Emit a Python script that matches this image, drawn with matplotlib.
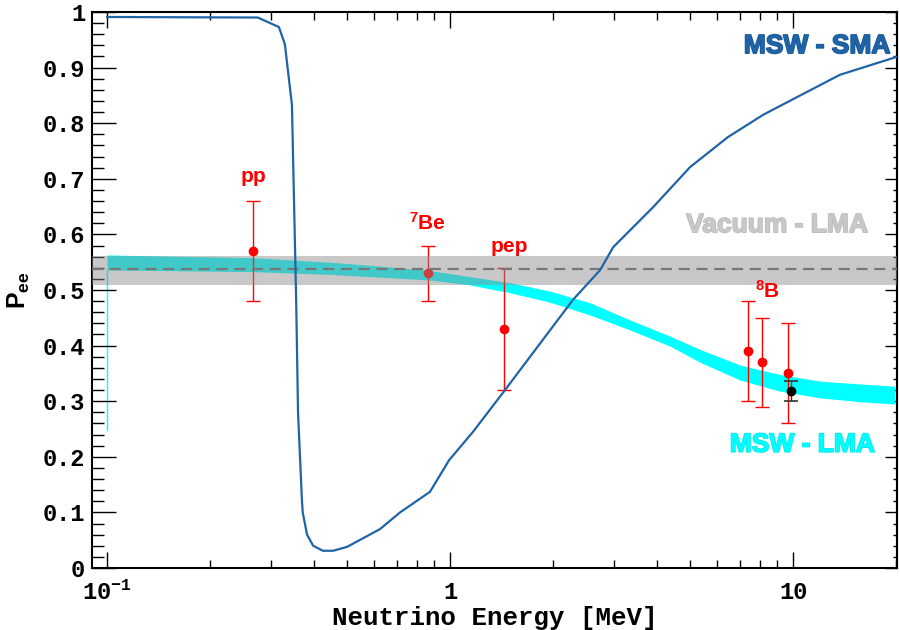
#!/usr/bin/env python3
import matplotlib
matplotlib.use("Agg")
import matplotlib.pyplot as plt
import matplotlib.patheffects as pe
from matplotlib.ticker import FixedLocator, FuncFormatter, LogLocator, MultipleLocator, NullFormatter

# MSW - SMA survival probability
sma_e = [0.100, 0.275, 0.317, 0.330, 0.346, 0.356, 0.3605, 0.370, 0.372, 0.383,
         0.399, 0.426, 0.456, 0.501, 0.625, 0.715, 0.874, 0.994, 1.167, 1.446,
         2.28, 2.74, 2.99, 3.91, 5.01, 6.46, 8.18, 10.28, 13.7, 20.0]
sma_p = [0.991, 0.990, 0.973, 0.942, 0.833, 0.482, 0.279, 0.122, 0.100, 0.060,
         0.040, 0.031, 0.031, 0.038, 0.070, 0.100, 0.137, 0.194, 0.245, 0.320,
         0.482, 0.536, 0.577, 0.649, 0.721, 0.775, 0.815, 0.847, 0.887, 0.919]

# MSW - LMA band
lma_e = [0.100, 0.267, 0.447, 0.626, 0.874, 1.144, 1.496, 1.957, 2.56, 3.35,
         4.38, 5.36, 7.01, 9.16, 11.99, 15.7, 19.8]
lma_hi = [0.563, 0.558, 0.550, 0.543, 0.535, 0.524, 0.513, 0.498, 0.477, 0.446,
          0.417, 0.393, 0.365, 0.348, 0.336, 0.331, 0.327]
lma_lo = [0.536, 0.533, 0.528, 0.523, 0.518, 0.509, 0.495, 0.478, 0.455, 0.428,
          0.399, 0.370, 0.338, 0.318, 0.306, 0.299, 0.295]
lma_tail = 0.248

# Vacuum - LMA
vac_lo, vac_hi, vac_mid = 0.509, 0.561, 0.538

# measurements
meas_e = [0.267, 0.862, 1.44, 7.4, 8.1, 9.7]
meas_p = [0.57, 0.53, 0.43, 0.39, 0.37, 0.35]
meas_err = [0.09, 0.05, 0.11, 0.09, 0.08, 0.09]
bk_e, bk_p, bk_err = [9.86], [0.318], [0.018]

plt.rcParams["mathtext.fontset"] = "custom"
plt.rcParams["mathtext.rm"] = "Liberation Mono:bold"
plt.rcParams["mathtext.sf"] = "Liberation Sans:bold"
plt.rcParams["mathtext.default"] = "rm"

mono = dict(family="Liberation Mono", weight="bold")
sans = dict(family="Liberation Sans", weight="bold")

fig = plt.figure(figsize=(9, 6.3), dpi=100)
ax = fig.add_axes([0.1022, 0.0984, 0.8945, 0.8826])
ax.set_xscale("log")
ax.set_xlim(0.0904, 20.1)
ax.set_ylim(0, 1)

cyan = "#00ffff"
ax.fill_between(lma_e, lma_lo, lma_hi, color=cyan, lw=0, zorder=1)
ax.plot([lma_e[0], lma_e[0]], [lma_tail, lma_lo[0]], color=cyan, lw=1.0, zorder=1)

ax.errorbar(meas_e, meas_p, yerr=meas_err, fmt="o", color="#ff0000", ms=6,
            elinewidth=1.0, capsize=5, capthick=1.0, zorder=2)
ax.errorbar(bk_e, bk_p, yerr=bk_err, fmt="o", color="black", ecolor="#333333",
            ms=6, elinewidth=1.0, capsize=5, capthick=1.2, zorder=2)

ax.axhspan(vac_lo, vac_hi, color="#8b8b8b", alpha=0.475, lw=0, zorder=3)
ax.axhline(vac_mid, color="#777777", lw=1.6, ls=(0, (5, 3)), zorder=4)

ax.plot(sma_e, sma_p, color="#2064a8", lw=1.6, zorder=5)

# labels
lab = dict(color="#ff0000", fontsize=15, zorder=6, **sans)
ax.text(0.267, 0.694, "pp", ha="center", va="baseline", **lab)
ax.text(0.862, 0.608, r"$\mathsf{^{7}}$Be", ha="center", va="baseline", **lab)
ax.text(1.49, 0.568, "pep", ha="center", va="baseline", **lab)
ax.text(8.4, 0.486, r"$\mathsf{^{8}}$B", ha="center", va="baseline", **lab)

ax.text(19.2, 0.926, "MSW - SMA", color="#2064a8", fontsize=19, ha="right",
        va="baseline", zorder=6, **sans,
        path_effects=[pe.withStroke(linewidth=1.2, foreground="#185896")])
ax.text(16.5, 0.604, "Vacuum - LMA", color="#c8c8c8", fontsize=19, ha="right",
        va="baseline", zorder=6, **sans,
        path_effects=[pe.withStroke(linewidth=1.2, foreground="#bdbdbd")])
ax.text(17.3, 0.209, "MSW - LMA", color=cyan, fontsize=19, ha="right",
        va="baseline", zorder=6, **sans,
        path_effects=[pe.withStroke(linewidth=1.2, foreground="#00eaea")])

# axes styling
for s in ax.spines.values():
    s.set_linewidth(1.5)

ax.xaxis.set_major_locator(FixedLocator([0.1, 1, 10]))
ax.xaxis.set_major_formatter(FuncFormatter(
    lambda v, p: {0.1: r"$10^{-1}$", 1: "1", 10: "10"}.get(round(v, 3), "")))
ax.xaxis.set_minor_locator(LogLocator(base=10, subs=range(2, 10)))
ax.xaxis.set_minor_formatter(NullFormatter())

ax.yaxis.set_major_locator(MultipleLocator(0.1))
ax.yaxis.set_minor_locator(MultipleLocator(0.02))
ax.yaxis.set_major_formatter(FuncFormatter(
    lambda v, p: "0" if abs(v) < 1e-9 else ("1" if abs(v - 1) < 1e-9 else f"{v:.1f}")))

ax.tick_params(axis="x", which="both", direction="in", top=True, bottom=True,
               width=1.0, labelsize=17, pad=9)
ax.tick_params(axis="x", which="major", length=11.5)
ax.tick_params(axis="x", which="minor", length=5.8)
ax.tick_params(axis="y", which="both", direction="in", left=True, right=False,
               width=1.0, labelsize=17, pad=5)
ax.tick_params(axis="y", which="major", length=17)
ax.tick_params(axis="y", which="minor", length=8.6)

for t in ax.get_xticklabels() + ax.get_yticklabels():
    t.set_fontfamily("Liberation Mono")
    t.set_fontweight("bold")

# right side ticks are shorter than the left ones
ry = ax.secondary_yaxis("right")
ry.yaxis.set_major_locator(MultipleLocator(0.1))
ry.yaxis.set_minor_locator(MultipleLocator(0.02))
ry.tick_params(which="both", direction="in", width=1.0, labelright=False)
ry.tick_params(which="major", length=8.6)
ry.tick_params(which="minor", length=2.9)
ry.spines["right"].set_linewidth(1.5)

ax.set_xlabel("Neutrino Energy [MeV]", fontsize=18.5, labelpad=1, **mono)
ax.set_ylabel(r"$\mathsf{P_{ee}}$", fontsize=18, labelpad=8)

fig.savefig("out.png", dpi=100)
